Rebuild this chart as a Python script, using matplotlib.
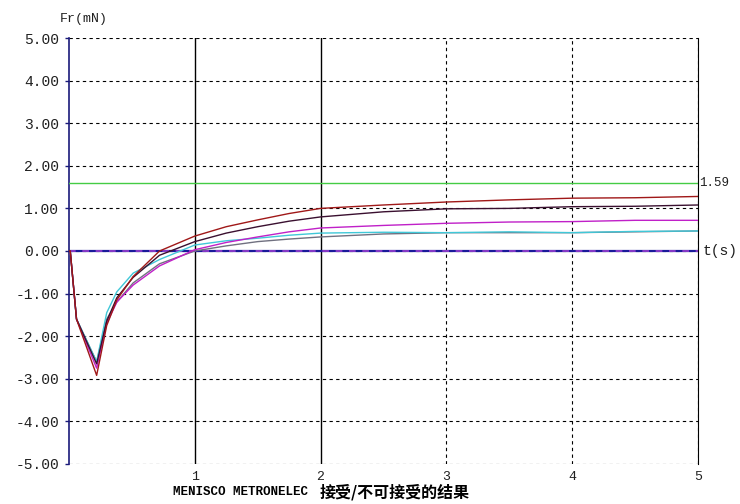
import matplotlib.pyplot as plt

# time points (s) and force curves (mN)
t = [0, 0.01, 0.06, 0.22, 0.30, 0.38, 0.51, 0.72, 1.0, 1.25, 1.5, 1.75,
     2.0, 2.5, 3.0, 3.5, 4.0, 4.5, 5.0]
red = [0, 0, -1.6, -2.92, -1.75, -1.15, -0.6, 0.0, 0.35, 0.57, 0.73, 0.88,
       1.0, 1.08, 1.15, 1.2, 1.24, 1.25, 1.28]
dark = [0, 0, -1.6, -2.65, -1.65, -1.1, -0.62, -0.1, 0.22, 0.42, 0.57, 0.7,
        0.8, 0.92, 0.99, 1.0, 1.04, 1.05, 1.08]
magenta = [0, 0, -1.6, -2.75, -1.7, -1.2, -0.8, -0.35, 0.03, 0.2, 0.33, 0.45,
           0.54, 0.6, 0.65, 0.68, 0.69, 0.72, 0.72]
cyan = [0, 0, -1.6, -2.6, -1.45, -0.96, -0.52, -0.2, 0.14, 0.24, 0.30, 0.37,
        0.42, 0.44, 0.43, 0.45, 0.43, 0.46, 0.47]
gray = [0, 0, -1.6, -2.6, -1.6, -1.2, -0.75, -0.3, 0.0, 0.12, 0.22, 0.28,
        0.33, 0.4, 0.43, 0.43, 0.43, 0.45, 0.47]
limit = 1.59

yticks = [5, 4, 3, 2, 1, 0, -1, -2, -3, -4, -5]
xticks = [1, 2, 3, 4, 5]

mono = 'Liberation Mono'
txt = '#202020'

fig = plt.figure(figsize=(7.4, 5.04), dpi=100)
ax = fig.add_axes([0.0932, 0.0794, 0.85, 0.8452])

# grid
for y in yticks:
    ax.axhline(y, color='black', lw=0.8, ls=(0, (3, 3)), zorder=1)
for x in xticks:
    if x <= 2:
        ax.axvline(x, color='black', lw=1.0, zorder=1)
    else:
        ax.axvline(x, color='black', lw=0.8, ls=(0, (3, 3)), zorder=1)

# zero line
ax.axhline(0, color='#1a1a9a', lw=1.6, zorder=2)
ax.axhline(0, color='#9a40d0', lw=1.2, ls=(0, (4, 4)), zorder=2)

ax.axhline(limit, color='#44cc44', lw=1.0, zorder=3)

ax.plot(t, gray, color='#707080', lw=1.0, zorder=4)
ax.plot(t, cyan, color='#40c8d8', lw=1.0, zorder=4)
ax.plot(t, magenta, color='#c020c8', lw=1.0, zorder=4)
ax.plot(t, dark, color='#3a1030', lw=1.0, zorder=4)
ax.plot(t, red, color='#a01818', lw=1.0, zorder=4)

ax.set_xlim(0, 5)
ax.set_ylim(-5, 5)

for s in ['top', 'bottom']:
    ax.spines[s].set_visible(False)
ax.spines['left'].set_color('#1a1a7a')
ax.spines['left'].set_linewidth(1.2)
ax.spines['right'].set_color('black')

ax.set_yticks(yticks)
ax.set_yticklabels(['%.2f' % v for v in yticks], fontfamily=mono, fontsize=10.5, color=txt)
ax.set_xticks(xticks)
ax.set_xticklabels([str(v) for v in xticks], fontfamily=mono, fontsize=9.5, color=txt)
ax.tick_params(axis='y', length=3, width=1, color='#1a1a7a', pad=4)
ax.tick_params(axis='x', length=0, pad=5)

fig.text(0.081, 0.962, 'Fr(mN)', fontfamily=mono, fontsize=9.5, va='center', color=txt)
ax.text(5.04, 0, 't(s)', fontfamily=mono, fontsize=10.5, va='center', ha='left', color=txt)
ax.text(5.01, limit, '1.59', fontfamily=mono, fontsize=9, va='center', ha='left', color=txt)

fig.text(0.234, 0.024, 'MENISCO METRONELEC ', fontfamily=mono, fontsize=9,
         va='center', ha='left', fontweight='bold')
fig.text(0.432, 0.024, '接受/不可接受的结果', family=['Noto Sans CJK SC', 'DejaVu Sans'],
         fontsize=11.5, va='center', ha='left', fontweight='bold')

fig.savefig('out.png', dpi=100)
